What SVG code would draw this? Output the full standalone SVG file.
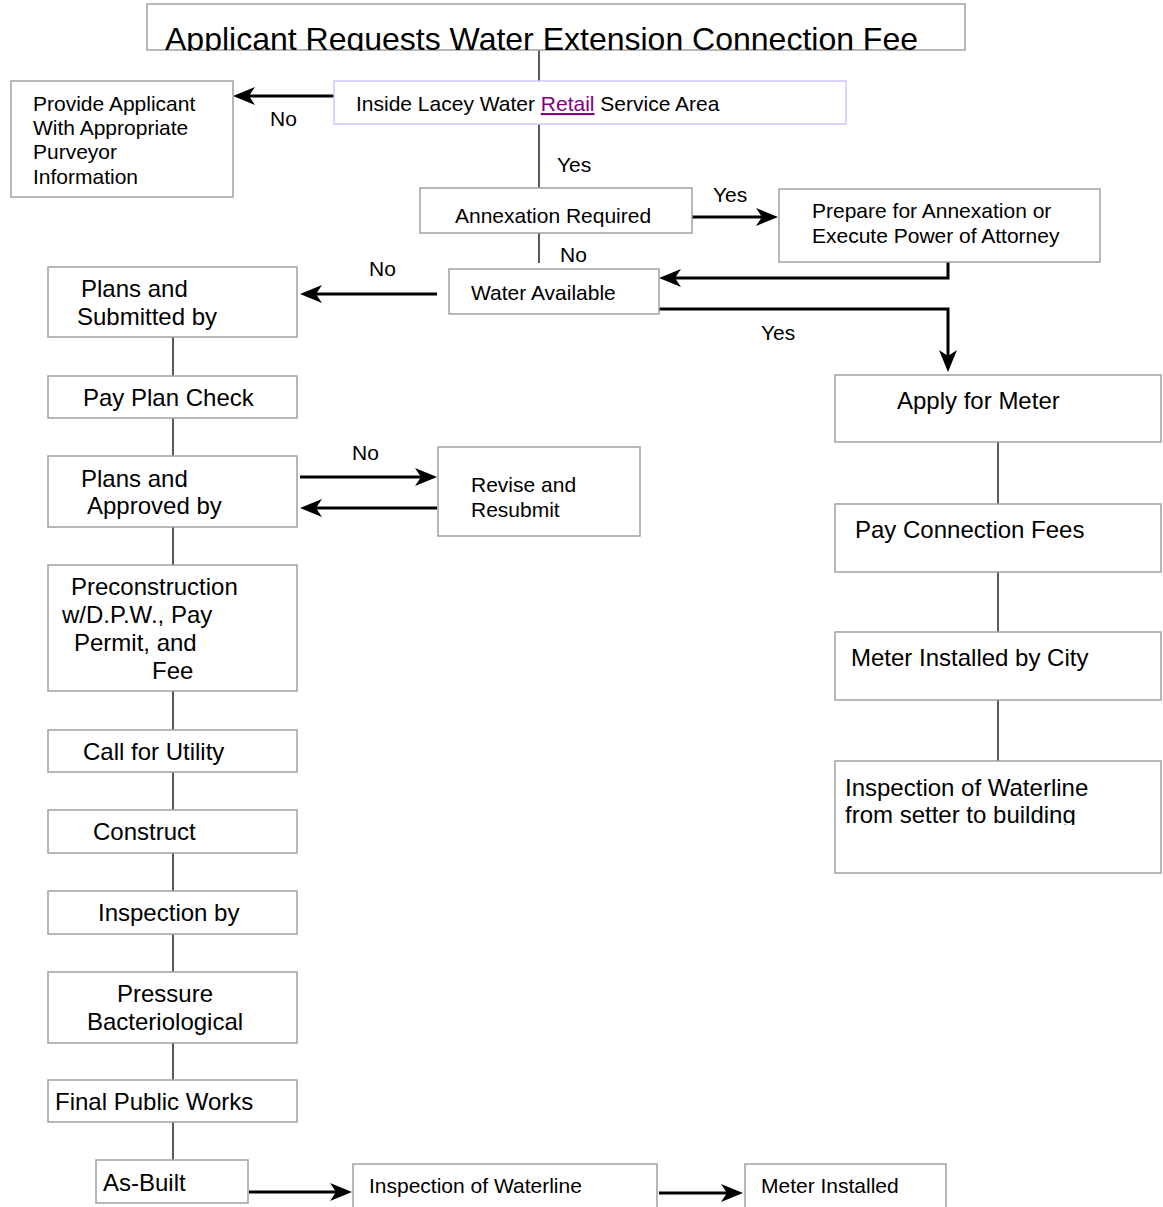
<svg xmlns="http://www.w3.org/2000/svg" width="1163" height="1207" viewBox="0 0 1163 1207">
<style>
  .box { fill: #ffffff; stroke: #a0a0a0; stroke-width: 1.5; }
  .t { font-family: "Liberation Sans", Arial, sans-serif; fill: #000000; }
  .s21 { font-size: 21px; }
  .s24 { font-size: 24px; }
  .thin { fill: none; stroke: #000000; stroke-width: 1.3; }
  .thick { fill: none; stroke: #000000; stroke-width: 3; marker-end: url(#ah); }
</style>
<defs>
  <marker id="ah" viewBox="0 0 22 18" refX="11" refY="9" markerWidth="22" markerHeight="18" markerUnits="userSpaceOnUse" orient="auto">
    <path d="M0,0 L22,9 L0,18 L6,9 z" fill="#000000"/>
  </marker>
  <clipPath id="clipTitle"><rect x="147" y="4" width="818" height="47"/></clipPath>
  <clipPath id="clipInsp"><rect x="835" y="761" width="326" height="64"/></clipPath>
</defs>
<rect x="0" y="0" width="1163" height="1207" fill="#ffffff"/>

<g id="connectors">
  <path class="thin" d="M539,50 V81"/>
  <path class="thin" d="M539,124 V188"/>
  <path class="thin" d="M539,233 V263"/>
  <path class="thin" d="M173,337 V376"/>
  <path class="thin" d="M173,418 V456"/>
  <path class="thin" d="M173,527 V565"/>
  <path class="thin" d="M173,691 V730"/>
  <path class="thin" d="M173,772 V810"/>
  <path class="thin" d="M173,853 V891"/>
  <path class="thin" d="M173,934 V972"/>
  <path class="thin" d="M173,1043 V1080"/>
  <path class="thin" d="M173,1122 V1160"/>
  <path class="thin" d="M998,442 V504"/>
  <path class="thin" d="M998,572 V632"/>
  <path class="thin" d="M998,700 V761"/>
  <path class="thick" d="M334,96 H244"/>
  <path class="thick" d="M692,217 H767"/>
  <path class="thick" d="M948,262 V278 H670"/>
  <path class="thick" d="M659,309 H948 V361"/>
  <path class="thick" d="M437,294 H311"/>
  <path class="thick" d="M300,477 H426"/>
  <path class="thick" d="M437,508 H311"/>
  <path class="thick" d="M249,1192 H341"/>
  <path class="thick" d="M659,1193 H732"/>
  <text class="t s21" x="270" y="126">No</text>
  <text class="t s21" x="557" y="172">Yes</text>
  <text class="t s21" x="713" y="202">Yes</text>
  <text class="t s21" x="560" y="262">No</text>
  <text class="t s21" x="369" y="276">No</text>
  <text class="t s21" x="761" y="340">Yes</text>
  <text class="t s21" x="352" y="460">No</text>
</g>

<g id="title">
  <rect class="box" x="147" y="4" width="818" height="46"/>
  <text class="t" clip-path="url(#clipTitle)" x="165" y="50" font-size="32">Applicant Requests Water Extension Connection Fee</text>
</g>

<g id="inside-lacey">
  <rect x="334" y="81" width="512" height="43" fill="#ffffff" stroke="#c8c8ff" stroke-width="1.5"/>
  <text class="t s21" x="356" y="111">Inside Lacey Water <tspan fill="#800080" text-decoration="underline">Retail</tspan> Service Area</text>
</g>

<g id="provide-applicant">
  <rect class="box" x="11" y="81" width="222" height="116"/>
  <text class="t s21" x="33" y="111">Provide Applicant</text>
  <text class="t s21" x="33" y="135">With Appropriate</text>
  <text class="t s21" x="33" y="159">Purveyor</text>
  <text class="t s21" x="33" y="184">Information</text>
</g>

<g id="annexation-required">
  <rect class="box" x="420" y="188" width="272" height="45"/>
  <text class="t s21" x="455" y="223">Annexation Required</text>
</g>

<g id="prepare-annexation">
  <rect class="box" x="779" y="189" width="321" height="73"/>
  <text class="t s21" x="812" y="218">Prepare for Annexation or</text>
  <text class="t s21" x="812" y="243">Execute Power of Attorney</text>
</g>

<g id="water-available">
  <rect class="box" x="449" y="269" width="210" height="45"/>
  <text class="t s21" x="471" y="300">Water Available</text>
</g>

<g id="plans-submitted">
  <rect class="box" x="48" y="267" width="249" height="70"/>
  <text class="t s24" x="81" y="297">Plans and</text>
  <text class="t s24" x="77" y="325">Submitted by</text>
</g>

<g id="pay-plan-check">
  <rect class="box" x="48" y="376" width="249" height="42"/>
  <text class="t s24" x="83" y="406">Pay Plan Check</text>
</g>

<g id="plans-approved">
  <rect class="box" x="48" y="456" width="249" height="71"/>
  <text class="t s24" x="81" y="487">Plans and</text>
  <text class="t s24" x="87" y="514">Approved by</text>
</g>

<g id="revise-resubmit">
  <rect class="box" x="438" y="447" width="202" height="89"/>
  <text class="t s21" x="471" y="492">Revise and</text>
  <text class="t s21" x="471" y="517">Resubmit</text>
</g>

<g id="preconstruction">
  <rect class="box" x="48" y="565" width="249" height="126"/>
  <text class="t s24" x="71" y="595">Preconstruction</text>
  <text class="t s24" x="62" y="623">w/D.P.W., Pay</text>
  <text class="t s24" x="74" y="651">Permit, and</text>
  <text class="t s24" x="152" y="679">Fee</text>
</g>

<g id="call-utility">
  <rect class="box" x="48" y="730" width="249" height="42"/>
  <text class="t s24" x="83" y="760">Call for Utility</text>
</g>

<g id="construct">
  <rect class="box" x="48" y="810" width="249" height="43"/>
  <text class="t s24" x="93" y="840">Construct</text>
</g>

<g id="inspection-by">
  <rect class="box" x="48" y="891" width="249" height="43"/>
  <text class="t s24" x="98" y="921">Inspection by</text>
</g>

<g id="pressure-bacteriological">
  <rect class="box" x="48" y="972" width="249" height="71"/>
  <text class="t s24" x="117" y="1002">Pressure</text>
  <text class="t s24" x="87" y="1030">Bacteriological</text>
</g>

<g id="final-public-works">
  <rect class="box" x="48" y="1080" width="249" height="42"/>
  <text class="t s24" x="55" y="1110">Final Public Works</text>
</g>

<g id="as-built">
  <rect class="box" x="96" y="1160" width="152" height="43"/>
  <text class="t s24" x="103" y="1191">As-Built</text>
</g>

<g id="inspection-waterline-bottom">
  <rect class="box" x="353" y="1164" width="304" height="46"/>
  <text class="t s21" x="369" y="1193">Inspection of Waterline</text>
</g>

<g id="meter-installed-bottom">
  <rect class="box" x="745" y="1164" width="201" height="46"/>
  <text class="t s21" x="761" y="1193">Meter Installed</text>
</g>

<g id="apply-meter">
  <rect class="box" x="835" y="375" width="326" height="67"/>
  <text class="t s24" x="897" y="409">Apply for Meter</text>
</g>

<g id="pay-connection-fees">
  <rect class="box" x="835" y="504" width="326" height="68"/>
  <text class="t s24" x="855" y="538">Pay Connection Fees</text>
</g>

<g id="meter-installed-city">
  <rect class="box" x="835" y="632" width="326" height="68"/>
  <text class="t s24" x="851" y="666">Meter Installed by City</text>
</g>

<g id="inspection-waterline-right">
  <rect class="box" x="835" y="761" width="326" height="112"/>
  <text class="t s24" x="845" y="796">Inspection of Waterline</text>
  <text class="t s24" clip-path="url(#clipInsp)" x="845" y="823">from setter to building</text>
</g>
</svg>
